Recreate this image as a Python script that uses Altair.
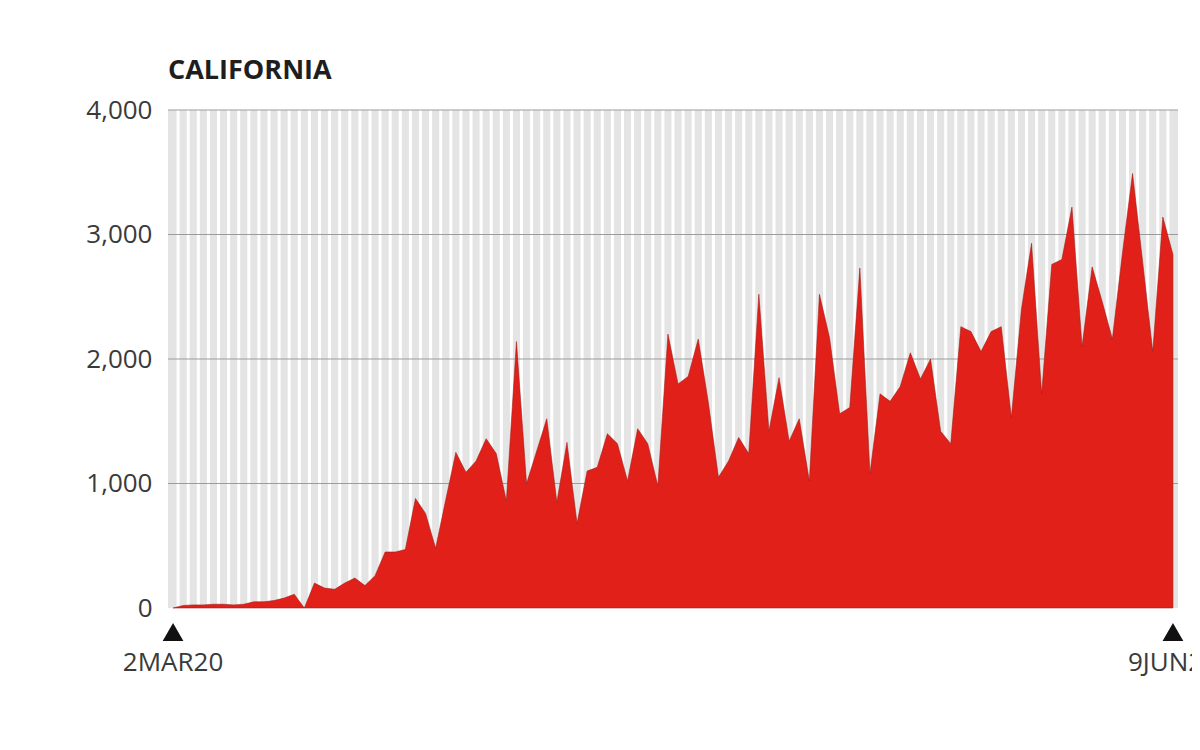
import altair as alt
import pandas as pd

# ---- data ----
day_index = list(range(100))  # 2 Mar 2020 .. 9 Jun 2020
cases = [
    0, 20, 25, 25, 30, 30, 25, 30, 50, 50,
    60, 80, 110, 0, 200, 160, 150, 200, 240, 180,
    260, 450, 450, 470, 880, 760, 480, 870, 1250, 1090,
    1180, 1360, 1240, 860, 2140, 1000, 1260, 1520, 850, 1330,
    680, 1100, 1130, 1400, 1320, 1020, 1440, 1320, 980, 2200,
    1800, 1860, 2160, 1650, 1050, 1180, 1370, 1240, 2520, 1420,
    1850, 1340, 1520, 1020, 2520, 2170, 1560, 1610, 2730, 1080,
    1720, 1660, 1780, 2050, 1840, 2000, 1420, 1320, 2260, 2220,
    2060, 2220, 2260, 1530, 2400, 2930, 1720, 2760, 2800, 3220,
    2100, 2740, 2460, 2160, 2850, 3490, 2780, 2060, 3140, 2840,
]
end_days = [0, 99]
end_labels = ["2MAR20", "9JUN20"]
y_ticks = [0, 1000, 2000, 3000, 4000]
grid_values = [1000, 2000, 3000, 4000]
stripe_positions = [i + 0.5 for i in range(99)]
title_text = "CALIFORNIA"

FONT = "Open Sans"

df = pd.DataFrame({"day": day_index, "cases": cases})
ends = pd.DataFrame({"day": end_days, "label": end_labels})
grid = pd.DataFrame({"v": grid_values})
stripes = pd.DataFrame({"x": stripe_positions})
ttl = pd.DataFrame({"t": [title_text]})

xscale = alt.Scale(domain=[-0.5, 99.5], nice=False, zero=False)
yscale = alt.Scale(domain=[0, 4000], nice=False)

yaxis = alt.Axis(
    values=y_ticks, format=",.0f", title=None, domain=False, ticks=False,
    grid=False, labelPadding=16, labelFont=FONT, labelFontSize=26,
    labelColor="#3a3a3a", labelBaseline="middle",
)

stripe_layer = alt.Chart(stripes).mark_rule(color="white", strokeWidth=3).encode(
    x=alt.X("x:Q", scale=xscale, axis=None)
)

grid_layer = alt.Chart(grid).mark_rule(color="#9c9c9c", strokeWidth=1).encode(
    y=alt.Y("v:Q", scale=yscale, axis=yaxis)
)

area = alt.Chart(df).mark_area(
    color="#e2201a", stroke="#9a1a12", strokeWidth=1, strokeOpacity=0.55,
    interpolate="linear"
).encode(
    x=alt.X("day:Q", scale=xscale, axis=None),
    y=alt.Y("cases:Q", scale=yscale, axis=yaxis),
)

triangles = alt.Chart(ends).mark_point(
    shape="triangle-up", filled=True, color="#111111", size=430, opacity=1
).encode(
    x=alt.X("day:Q", scale=xscale, axis=None),
    y=alt.value(522),
)

labels = alt.Chart(ends).mark_text(
    font=FONT, fontSize=26, color="#3a3a3a", baseline="middle", align="center"
).encode(
    x=alt.X("day:Q", scale=xscale, axis=None),
    y=alt.value(553),
    text="label:N",
)

title = alt.Chart(ttl).mark_text(
    font=FONT, fontSize=27, fontWeight="bold", color="#1e1e1e",
    align="left", baseline="alphabetic"
).encode(
    x=alt.value(0),
    y=alt.value(-31),
    text="t:N",
)

chart = alt.layer(stripe_layer, grid_layer, area, triangles, labels, title).properties(
    width=1010,
    height=498,
    autosize=alt.AutoSizeParams(type="none"),
    padding={"left": 160, "top": 102, "right": 14, "bottom": 118},
).configure_view(fill="#e4e4e4", strokeWidth=0)

chart.save("out.html", embed_options={"renderer": "svg", "actions": False})
